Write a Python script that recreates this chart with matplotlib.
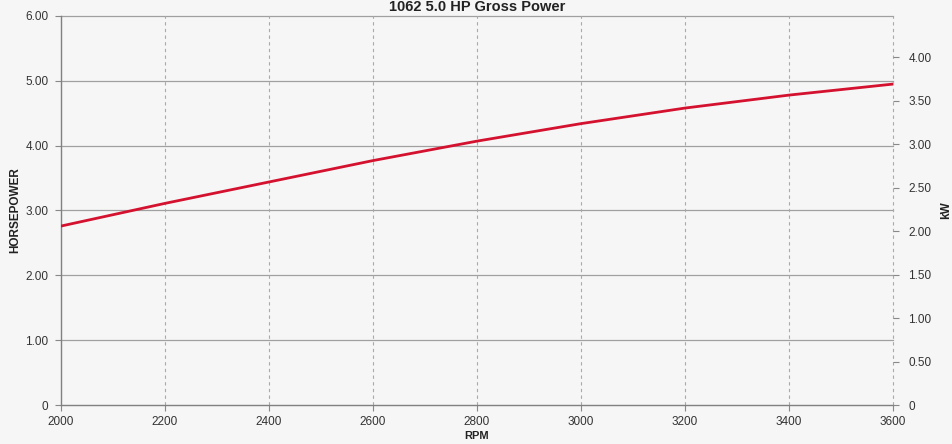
import matplotlib
matplotlib.use("Agg")
import matplotlib.pyplot as plt
import numpy as np

rpm = [2000, 2200, 2400, 2600, 2800, 3000, 3200, 3400, 3600]
hp = [2.76, 3.11, 3.44, 3.77, 4.07, 4.34, 4.58, 4.78, 4.95]
hp_ticks = [0, 1, 2, 3, 4, 5, 6]
hp_labels = ["0", "1.00", "2.00", "3.00", "4.00", "5.00", "6.00"]
kw_ticks = [0, 0.5, 1.0, 1.5, 2.0, 2.5, 3.0, 3.5, 4.0]
kw_labels = ["0", "0.50", "1.00", "1.50", "2.00", "2.50", "3.00", "3.50", "4.00"]
x_ticks = [2000, 2200, 2400, 2600, 2800, 3000, 3200, 3400, 3600]
HP_TO_KW = 0.7457

plt.rcParams['font.family'] = ['Liberation Sans', 'DejaVu Sans']
W, H = 953, 444
fig = plt.figure(figsize=(W/100, H/100), dpi=100, facecolor="#f6f6f6")
ax = fig.add_axes([61/W, 1-405/H, (893-61)/W, (405-16)/H])
ax.set_facecolor("#f6f6f6")

gc = "#a0a0a0"
ax.set_xlim(2000, 3600)
ax.set_ylim(0, 6)
ax.set_xticks(x_ticks)
ax.set_xticklabels([str(v) for v in x_ticks])
ax.set_yticks(hp_ticks)
ax.set_yticklabels(hp_labels)
for y in hp_ticks[1:]:
    ax.axhline(y, color=gc, lw=0.9, zorder=1, clip_on=False)
for x in x_ticks[1:]:
    ax.axvline(x, color="#aaaaaa", lw=0.8, ls=(0, (3, 3)), zorder=1, clip_on=False)

ax.plot(rpm, hp, color="#d4122f", lw=2.0, zorder=3)

for s in ["top", "right"]:
    ax.spines[s].set_visible(False)
for s in ["left", "bottom"]:
    ax.spines[s].set_color("#808080")
    ax.spines[s].set_linewidth(1.0)
ax.tick_params(axis="both", colors="#888888", labelcolor="#333333", labelsize=8.5, length=4, width=0.8)
ax.tick_params(axis="y", pad=5)
ax.tick_params(axis="x", pad=4)

ax2 = ax.twinx()
ax2.set_ylim(0, 6*HP_TO_KW)
ax2.set_yticks(kw_ticks)
ax2.set_yticklabels(kw_labels)
for s in ["top", "left", "bottom", "right"]:
    ax2.spines[s].set_visible(False)
ax2.tick_params(axis="y", colors="#888888", labelcolor="#333333", labelsize=8.5, length=4, width=0.8, pad=7)

fig.text(477/W, 1.0, "1062 5.0 HP Gross Power", ha="center", va="top", fontsize=10.5, fontweight="bold", color="#222222")
fig.text(477/W, 1-431/H, "RPM", ha="center", va="top", fontsize=8, fontweight="bold", color="#222222")
fig.text(15/W, 1-210/H, "HORSEPOWER", ha="center", va="center", rotation=90, fontsize=8.5, fontweight="bold", color="#222222")
fig.text(946/W, 1-210/H, "kW", ha="center", va="center", rotation=90, fontsize=8.5, fontweight="bold", color="#222222")

fig.savefig("out.png", dpi=100, facecolor=fig.get_facecolor())
